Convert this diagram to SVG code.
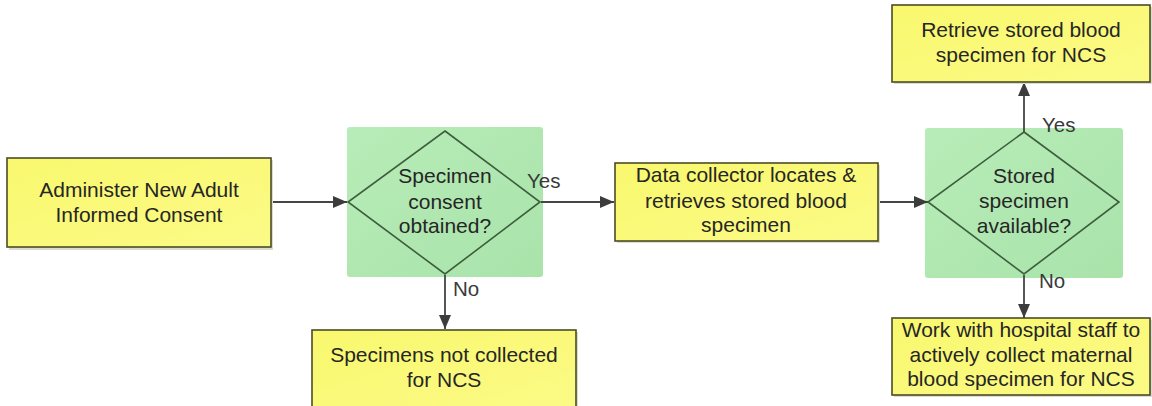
<svg xmlns="http://www.w3.org/2000/svg" width="1152" height="406" viewBox="0 0 1152 406">
  <style>
    .box { fill: url(#yellowFill); stroke: #4b4b26; stroke-width: 1.6; }
    .shadow { fill: #dcdccc; }
    .zone { fill: url(#greenFill); }
    .diamond { fill: none; stroke: #3d5e3d; stroke-width: 1.6; }
    .label { font-family: "Liberation Sans", Arial, sans-serif; font-size: 21px; fill: #262626; text-anchor: middle; }
    .edge-label { font-family: "Liberation Sans", Arial, sans-serif; font-size: 20.5px; fill: #3a3a3a; }
    .edge { stroke: #454545; stroke-width: 1.8; fill: none; marker-end: url(#arrow); }
  </style>
  <defs>
    <linearGradient id="yellowFill" x1="0" y1="0" x2="1" y2="1">
      <stop offset="0" stop-color="#f9f86e"/>
      <stop offset="1" stop-color="#fbfa86"/>
    </linearGradient>
    <linearGradient id="greenFill" x1="0" y1="0" x2="1" y2="1">
      <stop offset="0" stop-color="#b8ecb8"/>
      <stop offset="1" stop-color="#a9e3aa"/>
    </linearGradient>
    <marker id="arrow" viewBox="0 0 14 12" refX="14" refY="6" markerWidth="14" markerHeight="12" markerUnits="userSpaceOnUse" orient="auto">
      <path d="M0,0 L14,6 L0,12 z" fill="#3c3c3c"/>
    </marker>
  </defs>

  <rect width="1152" height="406" fill="#ffffff"/>

  <!-- decision backgrounds -->
  <rect class="zone" x="347" y="127" width="196" height="150" rx="3"/>
  <rect class="zone" x="925" y="128" width="198" height="150" rx="3"/>

  <g id="connectors">
    <line class="edge" x1="272" y1="202" x2="347" y2="202"/>
    <line class="edge" x1="541" y1="202" x2="614" y2="202"/>
    <line class="edge" x1="879" y1="202" x2="928" y2="202"/>
    <line class="edge" x1="445" y1="275" x2="445" y2="329"/>
    <line class="edge" x1="1024" y1="132" x2="1024" y2="82"/>
    <line class="edge" x1="1024" y1="275" x2="1024" y2="318"/>
    <text class="edge-label" x="527" y="188">Yes</text>
    <text class="edge-label" x="453" y="296">No</text>
    <text class="edge-label" x="1042" y="132">Yes</text>
    <text class="edge-label" x="1039" y="288">No</text>
  </g>

  <g id="consent">
    <rect class="shadow" x="9" y="160" width="264" height="90"/>
    <rect class="box" x="7" y="158" width="264" height="89"/>
    <text class="label" x="139" y="197">Administer New Adult</text>
    <text class="label" x="139" y="222">Informed Consent</text>
  </g>

  <g id="consent-decision">
    <polygon class="diamond" points="445,131 540,202 445,274 348,202"/>
    <text class="label" x="445" y="183">Specimen</text>
    <text class="label" x="445" y="209">consent</text>
    <text class="label" x="445" y="233">obtained?</text>
  </g>

  <g id="not-collected">
    <rect class="shadow" x="314" y="332" width="264" height="80"/>
    <rect class="box" x="312" y="330" width="264" height="80"/>
    <text class="label" x="444" y="362">Specimens not collected</text>
    <text class="label" x="444" y="387">for NCS</text>
  </g>

  <g id="locate-specimen">
    <rect class="shadow" x="617" y="165" width="263" height="78"/>
    <rect class="box" x="615" y="163" width="263" height="78"/>
    <text class="label" x="746" y="182">Data collector locates &amp;</text>
    <text class="label" x="746" y="208">retrieves stored blood</text>
    <text class="label" x="746" y="232">specimen</text>
  </g>

  <g id="stored-decision">
    <polygon class="diamond" points="1024,132 1119,202 1024,274 928,202"/>
    <text class="label" x="1024" y="183">Stored</text>
    <text class="label" x="1024" y="208">specimen</text>
    <text class="label" x="1024" y="233">available?</text>
  </g>

  <g id="retrieve-stored">
    <rect class="shadow" x="894" y="7" width="258" height="77"/>
    <rect class="box" x="892" y="5" width="258" height="77"/>
    <text class="label" x="1021" y="37">Retrieve stored blood</text>
    <text class="label" x="1021" y="62">specimen for NCS</text>
  </g>

  <g id="collect-maternal">
    <rect class="shadow" x="894" y="320" width="258" height="77"/>
    <rect class="box" x="892" y="318" width="258" height="77"/>
    <text class="label" x="1021" y="337">Work with hospital staff to</text>
    <text class="label" x="1021" y="362">actively collect maternal</text>
    <text class="label" x="1021" y="386">blood specimen for NCS</text>
  </g>
</svg>
